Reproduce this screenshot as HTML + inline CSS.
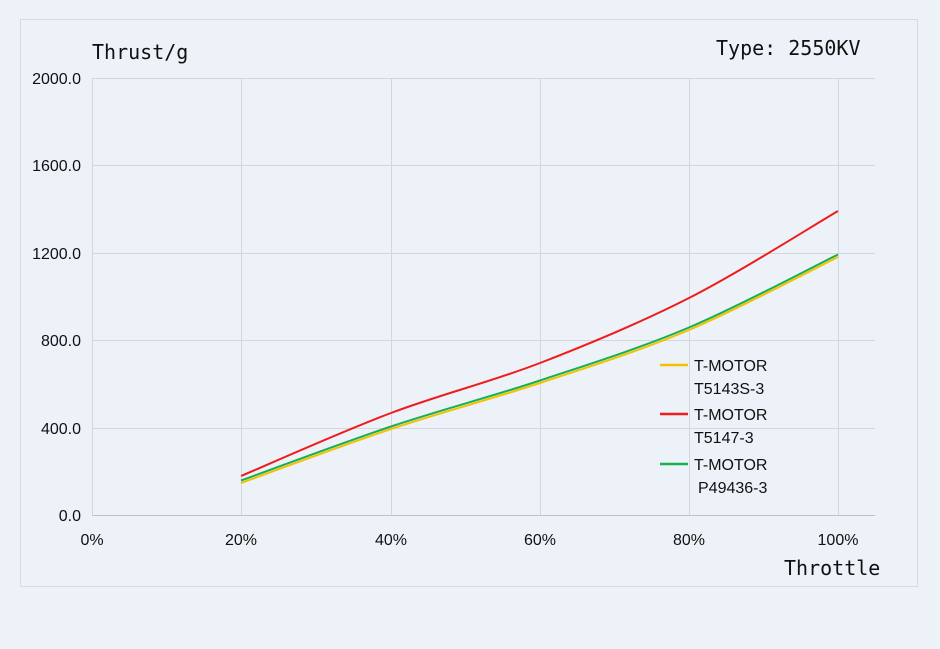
<!DOCTYPE html>
<html><head><meta charset="utf-8"><style>
html,body{margin:0;padding:0;background:#edf2f8;}
svg{display:block}
text{font-family:"Liberation Sans",sans-serif;fill:#111}
.m{font-family:"DejaVu Sans Mono","Liberation Mono",monospace}
</style></head><body>
<svg width="940" height="649" viewBox="0 0 940 649">
<rect width="940" height="649" fill="#edf2f8"/>
<rect x="20.5" y="19.5" width="897" height="567" fill="#edf2f8" stroke="#d6dbe0"/>
<g stroke="#d3d7db" stroke-width="1">
<line x1="92" y1="78.5" x2="875" y2="78.5"/>
<line x1="92" y1="165.5" x2="875" y2="165.5"/>
<line x1="92" y1="253.5" x2="875" y2="253.5"/>
<line x1="92" y1="340.5" x2="875" y2="340.5"/>
<line x1="92" y1="428.5" x2="875" y2="428.5"/>
<line x1="92.5" y1="78" x2="92.5" y2="515"/>
<line x1="241.5" y1="78" x2="241.5" y2="515"/>
<line x1="391.5" y1="78" x2="391.5" y2="515"/>
<line x1="540.5" y1="78" x2="540.5" y2="515"/>
<line x1="689.5" y1="78" x2="689.5" y2="515"/>
<line x1="838.5" y1="78" x2="838.5" y2="515"/>
</g>
<line x1="92" y1="515.5" x2="875" y2="515.5" stroke="#bfc4c9"/>
<g font-size="16" text-anchor="end">
<text x="81" y="84">2000.0</text>
<text x="81" y="171">1600.0</text>
<text x="81" y="259">1200.0</text>
<text x="81" y="346">800.0</text>
<text x="81" y="434">400.0</text>
<text x="81" y="521">0.0</text>
</g>
<g font-size="16" text-anchor="middle">
<text x="92" y="545">0%</text>
<text x="241" y="545">20%</text>
<text x="391" y="545">40%</text>
<text x="540" y="545">60%</text>
<text x="689" y="545">80%</text>
<text x="838" y="545">100%</text>
</g>
<text class="m" x="92" y="59" font-size="20">Thrust/g</text>
<text class="m" x="716" y="55" font-size="20">Type: 2550KV</text>
<text class="m" x="784" y="575" font-size="20">Throttle</text>
<g fill="none" stroke-width="2">
<path stroke="#f5c000" d="M241,483 C266,474 341.2,445.7 391,429 C440.8,412.3 490.3,399.5 540,383 C589.7,366.5 639.3,351 689,330 C738.7,309 813.2,269.2 838,257"/>
<path stroke="#16b050" transform="translate(0,-2.5)" d="M241,483 C266,474 341.2,445.7 391,429 C440.8,412.3 490.3,399.5 540,383 C589.7,366.5 639.3,351 689,330 C738.7,309 813.2,269.2 838,257"/>
<path stroke="#ee1c1c" d="M241,476 C266,465.5 341.2,431.8 391,413 C440.8,394.2 490.3,382.2 540,363 C589.7,343.8 639.3,323.3 689,298 C738.7,272.7 813.2,225.5 838,211"/>
</g>
<g stroke-width="2.5">
<line x1="660" y1="365" x2="688" y2="365" stroke="#f5c000"/>
<line x1="660" y1="414" x2="688" y2="414" stroke="#ee1c1c"/>
<line x1="660" y1="464" x2="688" y2="464" stroke="#16b050"/>
</g>
<g font-size="16">
<text x="694" y="371">T-MOTOR</text>
<text x="694" y="394">T5143S-3</text>
<text x="694" y="420">T-MOTOR</text>
<text x="694" y="443">T5147-3</text>
<text x="694" y="470">T-MOTOR</text>
<text x="698" y="493">P49436-3</text>
</g>
</svg>
</body></html>
